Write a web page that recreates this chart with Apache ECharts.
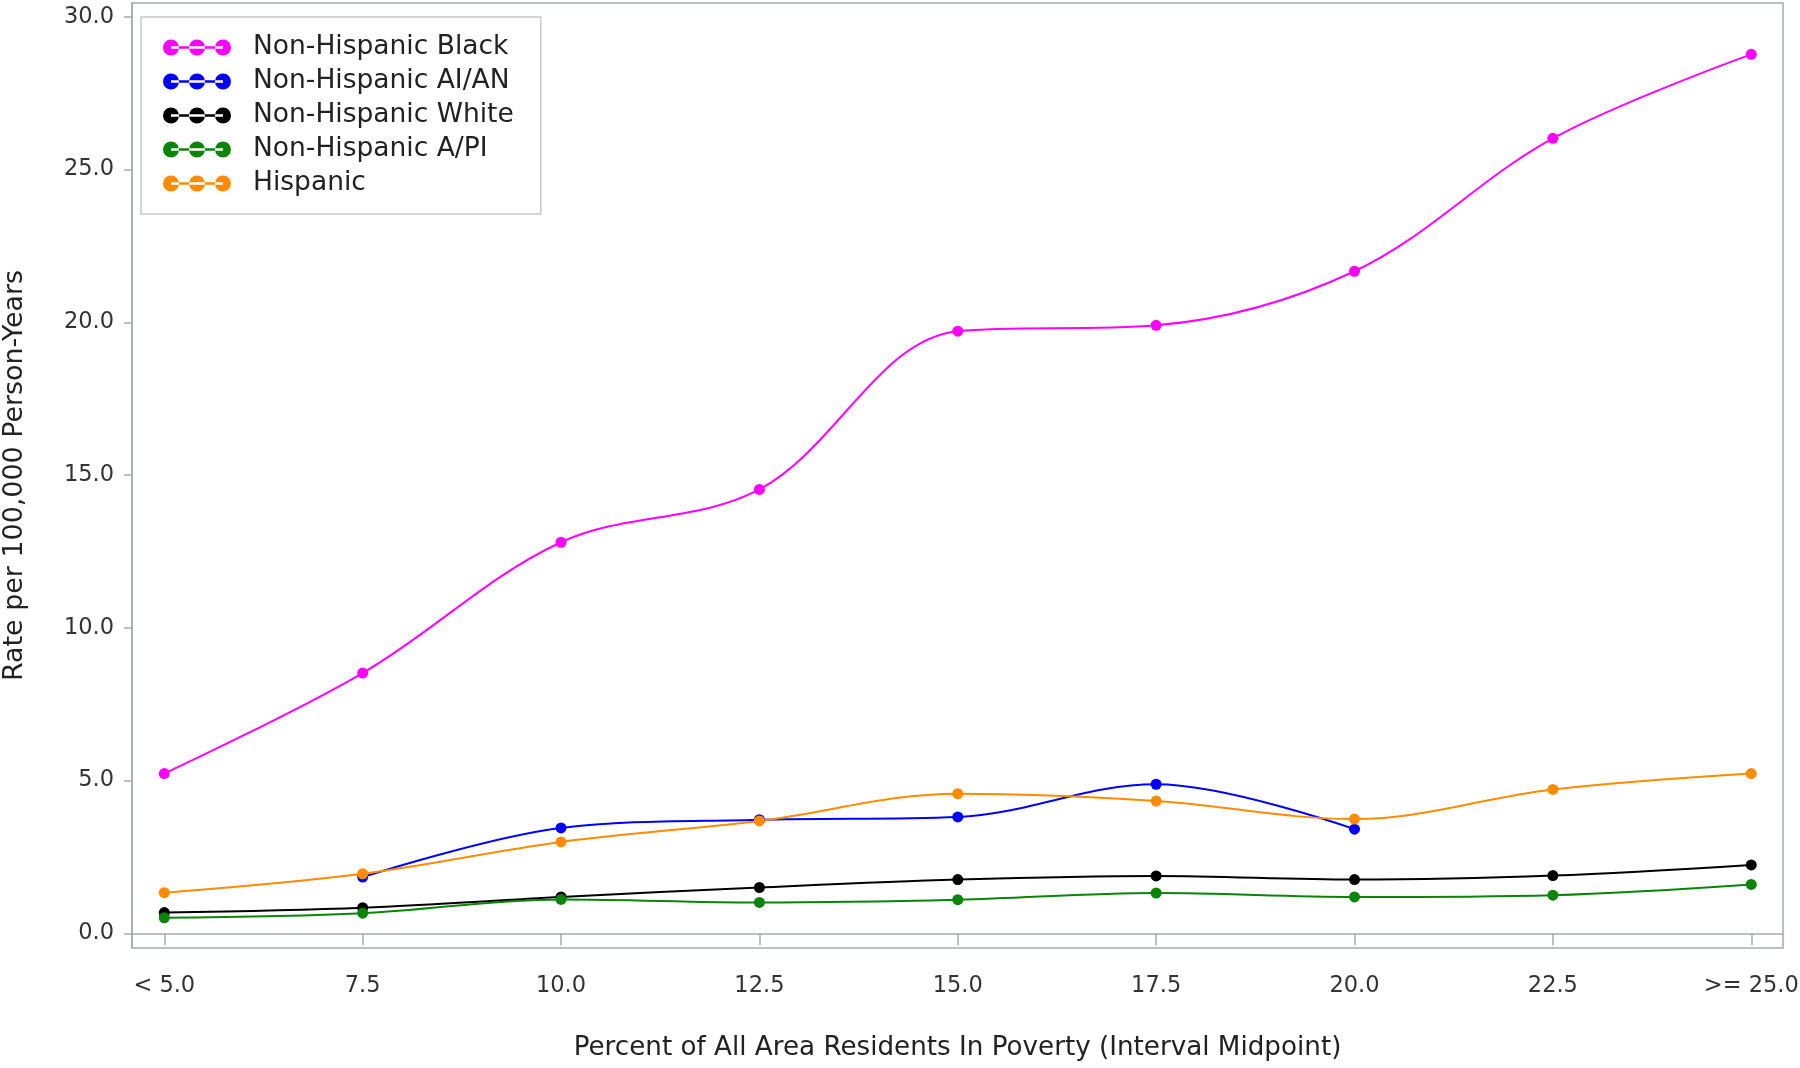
<!DOCTYPE html>
<html>
<head>
<meta charset="utf-8">
<script src="https://cdn.jsdelivr.net/npm/echarts@6/dist/echarts.min.js"></script>
<style>
html,body{margin:0;padding:0;background:#fff;}
#chart{width:1800px;height:1068px;}
</style>
</head>
<body>
<div id="chart"></div>
<script>
// Data
const xValues = [5, 7.5, 10, 12.5, 15, 17.5, 20, 22.5, 25];
const xTickLabels = ["< 5.0", "7.5", "10.0", "12.5", "15.0", "17.5", "20.0", "22.5", ">= 25.0"];
const yTicks = [0, 5, 10, 15, 20, 25, 30];

const seriesNames = ["Non-Hispanic Black", "Non-Hispanic AI/AN", "Non-Hispanic White", "Non-Hispanic A/PI", "Hispanic"];
const nhBlack = [5.23, 8.52, 12.8, 14.53, 19.71, 19.9, 21.67, 26.02, 28.77];
const nhAIAN  = [null, 1.84, 3.45, 3.72, 3.81, 4.88, 3.41, null, null];
const nhWhite = [0.68, 0.84, 1.19, 1.50, 1.76, 1.88, 1.76, 1.89, 2.24];
const nhAPI   = [0.51, 0.66, 1.11, 1.01, 1.10, 1.32, 1.19, 1.25, 1.60];
const hispanic = [1.33, 1.95, 2.99, 3.68, 4.57, 4.33, 3.74, 4.71, 5.23];

const seriesValues = [nhBlack, nhAIAN, nhWhite, nhAPI, hispanic];
const seriesColors = ["#ff00ff", "#0000ff", "#000000", "#0a850a", "#ff8c00"];

const FONT = "DejaVu Sans";
const legendIcon = "path://M0,8a8,8 0 1,0 16,0a8,8 0 1,0 -16,0Z M26,8a8,8 0 1,0 16,0a8,8 0 1,0 -16,0Z M52,8a8,8 0 1,0 16,0a8,8 0 1,0 -16,0Z M8,6.8L60,6.8L60,9.2L8,9.2Z";

function pairs(vals) {
  const out = [];
  vals.forEach((v, i) => { if (v !== null) out.push([xValues[i], v]); });
  return out;
}

const chart = echarts.init(document.getElementById('chart'), null, {renderer: 'canvas'});
const axisGray = '#a6aaae';
chart.setOption({
  animation: false,
  backgroundColor: '#ffffff',
  grid: {
    left: 132, right: 17, top: 3, bottom: 120,
    containLabel: false,
    outerBoundsMode: 'none',
    show: true, borderColor: axisGray, borderWidth: 1.5, backgroundColor: 'transparent'
  },
  legend: {
    orient: 'vertical',
    left: 141, top: 17,
    padding: [17, 27, 17, 22],
    itemGap: 7,
    itemWidth: 68, itemHeight: 16,
    icon: legendIcon,
    backgroundColor: '#ffffff',
    borderColor: '#c8c8c8', borderWidth: 1.5,
    selectedMode: false,
    textStyle: {fontFamily: FONT, fontSize: 26.5, color: '#222', padding: [0, 0, 0, 17]},
    data: seriesNames.map((n, i) => ({name: n, itemStyle: {color: seriesColors[i]}}))
  },
  xAxis: {
    type: 'value',
    min: 4.593, max: 25.4,
    name: 'Percent of All Area Residents In Poverty (Interval Midpoint)',
    nameLocation: 'middle', nameGap: 87,
    nameTextStyle: {fontFamily: FONT, fontSize: 26.2, color: '#222'},
    axisLine: {show: true, lineStyle: {color: axisGray, width: 1.5}},
    axisTick: {show: true, customValues: xValues, length: 12, lineStyle: {color: axisGray, width: 1.5}},
    axisLabel: {
      customValues: xValues, margin: 27,
      fontFamily: FONT, fontSize: 22.5, color: '#333',
      formatter: function (v) { const i = xValues.indexOf(v); return i >= 0 ? xTickLabels[i] : ''; }
    },
    splitLine: {show: false}
  },
  yAxis: {
    type: 'value',
    min: -0.48, max: 30.45,
    name: 'Rate per 100,000 Person-Years',
    nameLocation: 'middle', nameGap: 103,
    nameTextStyle: {fontFamily: FONT, fontSize: 26.9, color: '#222'},
    axisLine: {show: true, lineStyle: {color: axisGray, width: 1.5}},
    axisTick: {show: true, customValues: yTicks, length: 8, lineStyle: {color: axisGray, width: 1.5}},
    axisLabel: {
      customValues: yTicks, margin: 18,
      fontFamily: FONT, fontSize: 22.5, color: '#333',
      formatter: function (v) { return v.toFixed(1); }
    },
    splitLine: {show: false}
  },
  series: seriesNames.map((n, i) => ({
    name: n,
    type: 'line',
    smooth: 0.35,
    symbol: 'circle',
    symbolSize: 11,
    color: seriesColors[i],
    lineStyle: {width: 2, color: seriesColors[i]},
    itemStyle: {color: seriesColors[i]},
    data: pairs(seriesValues[i])
  }))
});
</script>
</body>
</html>
